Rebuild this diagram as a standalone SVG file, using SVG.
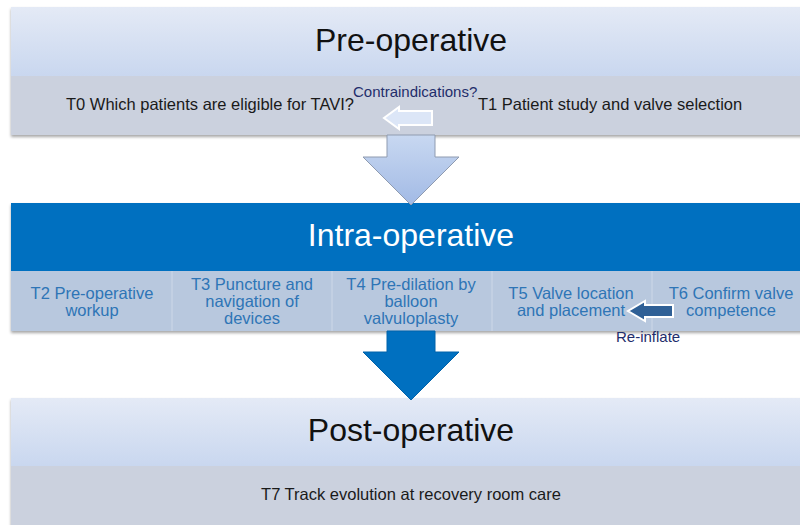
<svg xmlns="http://www.w3.org/2000/svg" width="800" height="525" viewBox="0 0 800 525">
  <defs>
    <linearGradient id="hdrLight" x1="0" y1="0" x2="0" y2="1">
      <stop offset="0" stop-color="#e4eaf6"/>
      <stop offset="1" stop-color="#c9d7ef"/>
    </linearGradient>
    <linearGradient id="arrowLight" x1="0" y1="0" x2="0" y2="1">
      <stop offset="0" stop-color="#c8d8f1"/>
      <stop offset="1" stop-color="#a2bae5"/>
    </linearGradient>
    <filter id="shadow" x="-5%" y="-10%" width="110%" height="125%">
      <feDropShadow dx="0" dy="2" stdDeviation="1.5" flood-color="#000" flood-opacity="0.35"/>
    </filter>
  </defs>
  <style>
    text { font-family: "Liberation Sans", Arial, sans-serif; }
    .title { font-size: 32px; text-anchor: middle; }
    .dark { fill: #111; }
    .light { fill: #ffffff; }
    .task { font-size: 16.5px; fill: #1a1a1a; }
    .cell { font-size: 16.5px; fill: #2e75b6; text-anchor: middle; }
    .note { font-size: 15px; fill: #1f2d6b; }
    .band { fill: #cbd1de; }
    .bandBlue { fill: #b8c8de; }
    .sep { stroke: #cdd8e8; stroke-width: 1; }
  </style>
  <rect width="800" height="525" fill="#ffffff"/>

  <!-- Pre-operative stage -->
  <g id="pre-operative">
    <g filter="url(#shadow)">
      <rect x="11" y="7" width="800" height="69" fill="url(#hdrLight)"/>
      <rect x="11" y="76" width="800" height="59" class="band"/>
    </g>
    <text x="411" y="51" class="title dark">Pre-operative</text>
    <text x="66" y="110" class="task">T0 Which patients are eligible for TAVI?</text>
    <text x="478" y="110" class="task">T1 Patient study and valve selection</text>
  </g>

  <!-- Intra-operative stage -->
  <g id="intra-operative">
    <g filter="url(#shadow)">
      <rect x="11" y="203" width="800" height="68" fill="#0070c0"/>
      <rect x="11" y="271" width="800" height="60" class="bandBlue"/>
    </g>
    <line x1="172" y1="271" x2="172" y2="331" class="sep"/>
    <line x1="332" y1="271" x2="332" y2="331" class="sep"/>
    <line x1="492" y1="271" x2="492" y2="331" class="sep"/>
    <line x1="652" y1="271" x2="652" y2="331" class="sep"/>
    <text x="411" y="246" class="title light">Intra-operative</text>
  </g>

  <g id="t2">
    <text class="cell"><tspan x="92" y="299">T2 Pre-operative</tspan><tspan x="92" y="316">workup</tspan></text>
  </g>
  <g id="t3">
    <text class="cell"><tspan x="252" y="290">T3 Puncture and</tspan><tspan x="252" y="307">navigation of</tspan><tspan x="252" y="324">devices</tspan></text>
  </g>
  <g id="t4">
    <text class="cell"><tspan x="411" y="290">T4 Pre-dilation by</tspan><tspan x="411" y="307">balloon</tspan><tspan x="411" y="324">valvuloplasty</tspan></text>
  </g>
  <g id="t5">
    <text class="cell"><tspan x="571" y="299">T5 Valve location</tspan><tspan x="571" y="316">and placement</tspan></text>
  </g>
  <g id="t6">
    <text class="cell"><tspan x="731" y="299">T6 Confirm valve</tspan><tspan x="731" y="316">competence</tspan></text>
  </g>

  <!-- Post-operative stage -->
  <g id="post-operative">
    <g filter="url(#shadow)">
      <rect x="11" y="398" width="800" height="68" fill="url(#hdrLight)"/>
      <rect x="11" y="466" width="800" height="70" class="band"/>
    </g>
    <text x="411" y="441" class="title dark">Post-operative</text>
    <text x="411" y="500" class="task" text-anchor="middle">T7 Track evolution at recovery room care</text>
  </g>

  <!-- Connectors -->
  <g id="connectors">
    <!-- T1 back to T0 -->
    <path d="M432,111 L399,111 L399,107 L384,118 L399,129 L399,125 L432,125 Z" fill="#dce6f7" stroke="#ffffff" stroke-width="2"/>
    <text x="353" y="97" class="note">Contraindications?</text>

    <!-- Pre-operative to Intra-operative -->
    <path d="M387,135 L435,135 L435,157 L459,157 L411,205 L363,157 L387,157 Z" fill="url(#arrowLight)" stroke="#8f9bb0" stroke-width="1"/>

    <!-- T6 back to T5 -->
    <path d="M673,305 L645,305 L645,301 L628,311 L645,321 L645,317 L673,317 Z" fill="#2f6096" stroke="#ffffff" stroke-width="2"/>
    <text x="616" y="342" class="note">Re-inflate</text>

    <!-- Intra-operative to Post-operative -->
    <path d="M387,331 L435,331 L435,352 L459,352 L411,400 L363,352 L387,352 Z" fill="#0070c0" stroke="#0063aa" stroke-width="1"/>
  </g>
</svg>
